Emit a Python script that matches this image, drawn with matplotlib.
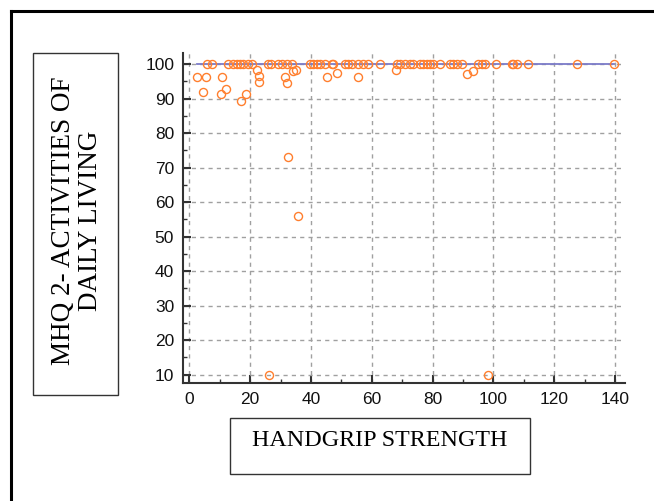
import matplotlib.pyplot as plt
from matplotlib.patches import Rectangle
from matplotlib.lines import Line2D
from matplotlib.ticker import MultipleLocator

# handgrip strength (x) vs MHQ2 activities of daily living (y)
fuerza_100 = [5.9, 7.3, 12.8, 14.4, 15.6, 16.6, 17.7, 19.4, 20.5, 26.0, 27.0, 29.2, 30.4, 32.0,
              33.6, 39.7, 40.8, 41.9, 43.0, 44.6, 46.8, 47.3, 51.2, 52.3, 53.4, 55.6, 57.2, 58.8,
              62.7, 68.2, 69.3, 70.9, 72.6, 73.7, 75.9, 77.0, 78.1, 79.2, 80.2, 82.4, 85.7, 86.8,
              87.9, 89.6, 95.0, 96.1, 97.2, 101.0, 106.0, 106.5, 107.7, 111.3, 127.4, 139.7]
fuerza_otros = [2.6, 5.5, 10.8, 4.4, 10.4, 11.9, 16.9, 18.6, 22.3, 22.8, 22.8, 31.4, 32.2,
                34.0, 35.1, 45.2, 48.6, 55.6, 68.0, 91.4, 93.2, 32.4, 35.8, 26.2, 98.3]
mhq_otros = [96.3, 96.3, 96.3, 92.0, 91.2, 92.8, 89.3, 91.4, 98.2, 96.5, 94.9, 96.3, 94.6,
             98.0, 98.2, 96.3, 97.5, 96.3, 98.2, 97.2, 98.0, 73.1, 56.0, 10.0, 10.0]

x = fuerza_100 + fuerza_otros
y = [100] * len(fuerza_100) + mhq_otros

W, H = 654, 501
fig = plt.figure(figsize=(W / 100, H / 100), dpi=100)

def fx(px):
    return px / W

def fy(py):
    return 1 - py / H

ax = fig.add_axes([fx(182.5), fy(383.3), fx(625) - fx(182.5), fy(53) - fy(383.3)])
ax.set_xlim(-2.27, 143.3)
ax.set_ylim(7.45, 103.2)

ax.grid(True, which='major', color='#a0a0a0', linestyle=(0, (3, 3)), linewidth=1)
ax.set_axisbelow(True)

ax.plot([min(x), max(x)], [100, 100], color='#7b7bc8', linewidth=1.3, zorder=2)
ax.plot(x, y, 'o', markerfacecolor='none', markeredgecolor='#ff7f2e',
        markersize=5.8, markeredgewidth=1.0, zorder=3)

ax.xaxis.set_major_locator(MultipleLocator(20))
ax.xaxis.set_minor_locator(MultipleLocator(10))
ax.yaxis.set_major_locator(MultipleLocator(10))
ax.yaxis.set_minor_locator(MultipleLocator(5))
ax.set_yticks(range(10, 101, 10))

for s in ['top', 'right']:
    ax.spines[s].set_visible(False)
for s in ['left', 'bottom']:
    ax.spines[s].set_linewidth(1.5)
    ax.spines[s].set_color('#333333')

ax.tick_params(which='major', direction='in', length=6, width=1.5, color='#333333',
               labelsize=12.5, labelcolor='#111111')
ax.tick_params(which='minor', direction='in', length=3, width=1, color='#333333')
ax.tick_params(axis='y', pad=6)
ax.tick_params(axis='x', pad=6)
for lab in ax.get_xticklabels() + ax.get_yticklabels():
    lab.set_family('Liberation Sans')

# outer frame (cut at the right and bottom)
fig.add_artist(Line2D([fx(11), 1.0], [fy(11), fy(11)], color='black', linewidth=2.2))
fig.add_artist(Line2D([fx(11), fx(11)], [fy(11), 0.0], color='black', linewidth=2.2))

# y label box
fig.add_artist(Rectangle((fx(33), fy(395)), fx(118) - fx(33), fy(53) - fy(395),
                         fill=False, edgecolor='#333333', linewidth=1))
fig.text(fx(77), fy(221), 'MHQ 2- ACTIVITIES OF\nDAILY LIVING', rotation=90,
         ha='center', va='center', multialignment='center',
         family='Liberation Serif', fontsize=19.5, linespacing=1.1)

# x label box
fig.add_artist(Rectangle((fx(230), fy(474)), fx(530) - fx(230), fy(418) - fy(474),
                         fill=False, edgecolor='#333333', linewidth=1))
fig.text(fx(380), fy(440), 'HANDGRIP STRENGTH', ha='center', va='center',
         family='Liberation Serif', fontsize=17.3)

fig.savefig('out.png', dpi=100)
